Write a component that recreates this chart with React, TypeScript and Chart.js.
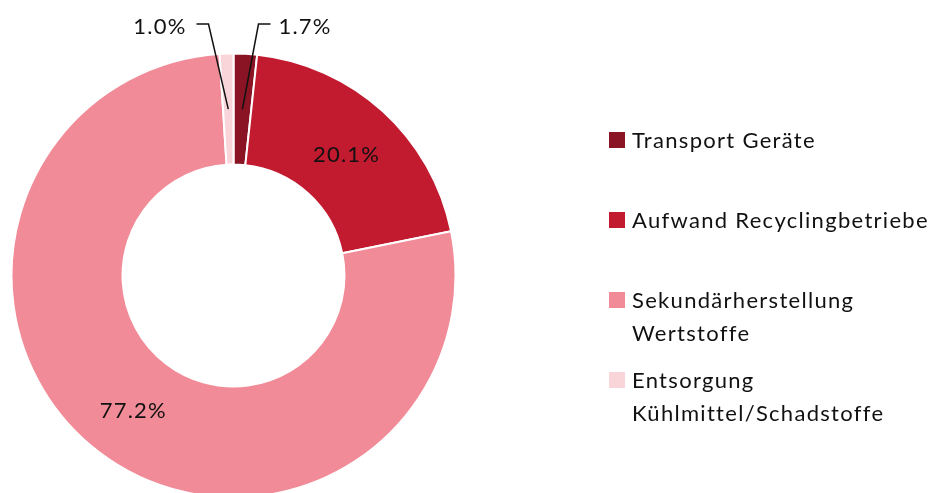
import React, { useEffect, useRef } from "react";
import { Chart, registerables } from "chart.js";

Chart.register(...registerables);

const categories: string[][] = [
  ["Transport Geräte"],
  ["Aufwand Recyclingbetriebe"],
  ["Sekundärherstellung", "Wertstoffe"],
  ["Entsorgung", "Kühlmittel/Schadstoffe"],
];
const values: number[] = [1.7, 20.1, 77.2, 1.0];
const colors: string[] = ["#8B1424", "#C21A2F", "#F18B97", "#F9D4D9"];

const FONT = "Lato, 'Open Sans', sans-serif";

const labelPlugin = {
  id: "sliceLabels",
  afterDatasetsDraw(chart: any) {
    const ctx = chart.ctx;
    const meta = chart.getDatasetMeta(0);
    const ds = chart.data.datasets[0];
    const cx = (chart.chartArea.left + chart.chartArea.right) / 2;
    ctx.save();
    ctx.font = `22px ${FONT}`;
    (ctx as any).letterSpacing = "1.2px";
    ctx.fillStyle = "#111";
    ctx.strokeStyle = "#111";
    ctx.lineWidth = 1.5;
    meta.data.forEach((arc: any, i: number) => {
      const v = ds.data[i] as number;
      const text = v.toFixed(1) + "%";
      const p = arc.getCenterPoint();
      if (v >= 5) {
        ctx.textAlign = "center";
        ctx.textBaseline = "middle";
        ctx.fillText(text, p.x + 1, p.y + 3);
      } else {
        const mid = (arc.startAngle + arc.endAngle) / 2;
        const dir = Math.cos(mid) >= 0 ? 1 : -1;
        const elbowX = cx + dir * 25;
        const yTop = 24;
        const endX = elbowX + dir * 12;
        ctx.beginPath();
        ctx.moveTo(p.x, p.y);
        ctx.lineTo(elbowX, yTop);
        ctx.lineTo(endX, yTop);
        ctx.stroke();
        ctx.textBaseline = "middle";
        ctx.textAlign = dir > 0 ? "left" : "right";
        ctx.fillText(text, endX + dir * (dir > 0 ? 8 : 10), yTop + 3);
      }
    });
    ctx.restore();
  },
};

const legendPlugin = {
  id: "sideLegend",
  afterDraw(chart: any) {
    const ctx = chart.ctx;
    const labels = chart.data.labels as string[][];
    const bg = chart.data.datasets[0].backgroundColor as string[];
    const x0 = 609;
    const rowTops = [132, 212, 292, 372];
    const lineH = 33;
    ctx.save();
    ctx.font = `22px ${FONT}`;
    (ctx as any).letterSpacing = "1.3px";
    ctx.fillStyle = "#111";
    ctx.textBaseline = "alphabetic";
    ctx.textAlign = "left";
    labels.forEach((lines, i) => {
      const top = rowTops[i];
      ctx.fillStyle = bg[i];
      ctx.fillRect(x0, top, 16, 16);
      ctx.fillStyle = "#111";
      lines.forEach((ln, j) => {
        ctx.fillText(ln, x0 + 23, top + 16 + j * lineH);
      });
    });
    ctx.restore();
  },
};

export default function App() {
  const ref = useRef<HTMLCanvasElement | null>(null);
  useEffect(() => {
    if (!ref.current) return;
    const chart = new Chart(ref.current, {
      type: "doughnut",
      data: {
        labels: categories as any,
        datasets: [
          {
            data: values,
            backgroundColor: colors,
            borderColor: "#ffffff",
            borderWidth: 2,
            hoverOffset: 0,
            radius: 222,
          } as any,
        ],
      },
      options: {
        animation: false,
        responsive: false,
        devicePixelRatio: 1,
        cutout: "50%",
        rotation: 0,
        layout: { padding: { left: 11, right: 475, top: 58, bottom: 0 } },
        plugins: {
          legend: { display: false },
          tooltip: { enabled: false },
        },
        events: [],
      },
      plugins: [labelPlugin, legendPlugin],
    });
    return () => chart.destroy();
  }, []);
  return (
    <div style={{ position: "absolute", left: 0, top: 0, width: 931, height: 493, background: "#fff" }}>
      <canvas ref={ref} width={931} height={493} style={{ display: "block" }} />
    </div>
  );
}
